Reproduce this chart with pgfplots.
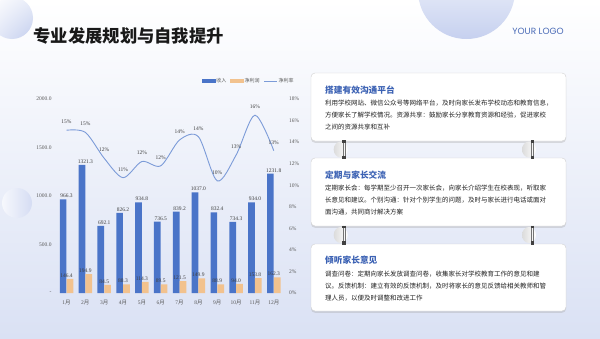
\documentclass[border=0pt]{standalone}
\usepackage{fontspec}
\setmainfont{Liberation Serif}
\newfontfamily\cjk{Noto Sans CJK SC}
\newfontfamily\logofont{Poppins}
\usepackage{pgfplots}
\pgfplotsset{compat=1.18}
\usetikzlibrary{shadows,shadings}
\definecolor{barblue}{HTML}{4A74C8}
\definecolor{barorange}{HTML}{F2C28E}
\definecolor{lineblue}{HTML}{7C9BD8}
\definecolor{tickgray}{HTML}{595959}
\definecolor{labgray}{HTML}{404040}
\definecolor{titleblue}{HTML}{3C62B4}
\definecolor{bodygray}{HTML}{222222}
\definecolor{bgblue}{HTML}{DAE1F4}
\definecolor{circblue}{HTML}{C3CEEE}
\definecolor{logoblue}{HTML}{4B6CB7}
\newcommand{\tf}{\fontsize{5.5bp}{6.6bp}\selectfont}
\newcommand{\bodyf}{\fontsize{6.5bp}{12bp}\selectfont\cjk\color{bodygray}}
\newcommand{\ring}[2]{%
  \shade[left color=black!14, right color=white] (#1-1,#2) ellipse (7 and 8);
  \draw[black!55, line width=0.5bp] (#1+1.2,#2+9.5) -- (#1+1.2,#2-9.5);
  \draw[black!55, line width=0.5bp] (#1+3.4,#2+9.5) -- (#1+3.4,#2-9.5);
  \fill[black!75] (#1+0.5,#2+9.5) rectangle (#1+4.1,#2+6.8);
  \fill[black!75] (#1+0.5,#2-9.5) rectangle (#1+4.1,#2-6.3);
}
\begin{document}
\begin{tikzpicture}[x=1bp,y=1bp]
\path[use as bounding box] (0,0) rectangle (600,338);
\shade[top color=white, bottom color=bgblue] (0,0) rectangle (600,338);
\shade[upper left=white, upper right=circblue!35, lower left=circblue!40, lower right=circblue] (12,320) circle (21);
\shade[top color=white, bottom color=circblue!95] (466.5,347.5) circle (48.5);
\shade[left color=white!85!circblue, right color=circblue!70] (17,135) circle (15);
\node[anchor=west, inner sep=0pt, font=\fontsize{17.3bp}{18bp}\selectfont\cjk\bfseries, text=black!90] at (33.3,302.5) {专业发展规划与自我提升};
\node[inner sep=0pt, font=\fontsize{9bp}{10bp}\selectfont\logofont, text=logoblue] at (538,307) {YOUR LOGO};

\begin{axis}[
  at={(57.1bp,45bp)}, anchor=south west, scale only axis,
  width=226.1bp, height=194bp,
  xmin=0.5, xmax=12.5, ymin=0, ymax=2000,
  axis line style={draw=none}, major tick length=0pt,
  xtick={1,...,12},
  xticklabels={1{\cjk 月},2{\cjk 月},3{\cjk 月},4{\cjk 月},5{\cjk 月},6{\cjk 月},7{\cjk 月},8{\cjk 月},9{\cjk 月},10{\cjk 月},11{\cjk 月},12{\cjk 月}},
  ytick={0,500,1000,1500,2000},
  yticklabels={-,500.0,1000.0,1500.0,2000.0},
  tick label style={font=\tf, text=tickgray},
  xticklabel style={anchor=center, inner sep=0pt, yshift=-10bp},
  yticklabel style={anchor=east, inner sep=0pt, xshift=-5.4bp},
  /pgf/number format/assume math mode=true,
  /pgf/number format/.cd, fixed, fixed zerofill, precision=1, 1000 sep={},
]
\addplot[ybar, bar width=6.7bp, bar shift=-3.4bp, fill=barblue, draw=none,
  nodes near coords, every node near coord/.append style={font=\tf, text=labgray, inner sep=1.2bp}]
  coordinates {(1,966.3) (2,1321.3) (3,692.1) (4,826.2) (5,934.8) (6,736.5) (7,839.2) (8,1037.0) (9,832.4) (10,734.3) (11,934.0) (12,1231.8)};
\addplot[ybar, bar width=6.7bp, bar shift=3.4bp, fill=barorange, draw=none,
  nodes near coords, every node near coord/.append style={font=\tf, text=labgray, inner sep=1.2bp}]
  coordinates {(1,146.4) (2,194.9) (3,84.5) (4,88.3) (5,114.3) (6,89.5) (7,121.5) (8,149.9) (9,88.9) (10,94.0) (11,153.8) (12,162.3)};
\end{axis}

\begin{axis}[
  at={(57.1bp,45bp)}, anchor=south west, scale only axis,
  width=226.1bp, height=194bp,
  xmin=0.5, xmax=12.5, ymin=0, ymax=18,
  axis line style={draw=none}, major tick length=0pt,
  xtick=\empty,
  ytick={0,2,...,18},
  yticklabels={0\%,2\%,4\%,6\%,8\%,10\%,12\%,14\%,16\%,18\%},
  yticklabel pos=right,
  tick label style={font=\tf, text=tickgray},
  yticklabel style={anchor=west, inner sep=0pt, xshift=5.8bp},
  legend style={at={(0.6395,1.093)}, anchor=west, draw=none, fill=none, inner sep=0pt,
    font=\fontsize{5bp}{6bp}\selectfont\cjk, text=tickgray,
    nodes={inner sep=1bp}, /tikz/every even column/.append style={column sep=3bp}},
  legend columns=3,
]
\addlegendimage{legend image code/.code={\fill[barblue] (0bp,-1.6bp) rectangle (13bp,1.6bp);}}
\addlegendentry{收入}
\addlegendimage{legend image code/.code={\fill[barorange] (0bp,-1.6bp) rectangle (13bp,1.6bp);}}
\addlegendentry{净利润}
\addplot[smooth, color=lineblue, line width=0.9bp, mark=none, point meta=explicit symbolic,
  nodes near coords, every node near coord/.append style={font=\tf, text=labgray, anchor=south, inner sep=0pt, yshift=6bp},
  legend image code/.code={\draw[lineblue, line width=0.9bp] (0bp,0bp) -- (13bp,0bp);}]
  coordinates {(1,15.1)[15\%] (2,14.9)[15\%] (3,12.5)[12\%] (4,10.7)[11\%] (5,12.2)[12\%] (6,11.8)[12\%] (7,14.2)[14\%] (8,14.5)[14\%] (9,10.4)[10\%] (10,12.8)[13\%] (11,16.5)[16\%] (12,13.2)[13\%]};
\addlegendentry{净利率}
\end{axis}

% boxes
\foreach \yt/\yb in {265/197, 180/112, 94/27} {
  \fill[black!35, opacity=0.35, rounded corners=4bp] (311,\yt-1.8) rectangle (566,\yb-1.8);
  \filldraw[fill=white, draw=black!18, line width=0.4bp, rounded corners=4bp] (311,\yt) rectangle (566,\yb);
}
\ring{341.7}{188.5}
\ring{530}{188.5}
\ring{341.7}{103}
\ring{530}{103}

\node[anchor=west, inner sep=0pt, font=\fontsize{8.7bp}{10bp}\selectfont\cjk\bfseries, text=titleblue] at (325,248) {搭建有效沟通平台};
\node[anchor=north west, inner sep=0pt, align=left, font=\bodyf] at (325,238) {利用学校网站、微信公众号等网络平台，及时向家长发布学校动态和教育信息，\\方便家长了解学校情况。资源共享：鼓励家长分享教育资源和经验，促进家校\\之间的资源共享和互补};

\node[anchor=west, inner sep=0pt, font=\fontsize{8.7bp}{10bp}\selectfont\cjk\bfseries, text=titleblue] at (325,163) {定期与家长交流};
\node[anchor=north west, inner sep=0pt, align=left, font=\bodyf] at (325,153) {定期家长会：每学期至少召开一次家长会，向家长介绍学生在校表现，听取家\\长意见和建议。个别沟通：针对个别学生的问题，及时与家长进行电话或面对\\面沟通，共同商讨解决方案};

\node[anchor=west, inner sep=0pt, font=\fontsize{8.7bp}{10bp}\selectfont\cjk\bfseries, text=titleblue] at (325,78) {倾听家长意见};
\node[anchor=north west, inner sep=0pt, align=left, font=\bodyf] at (325,67) {调查问卷：定期向家长发放调查问卷，收集家长对学校教育工作的意见和建\\议。反馈机制：建立有效的反馈机制，及时将家长的意见反馈给相关教师和管\\理人员，以便及时调整和改进工作};
\end{tikzpicture}
\end{document}
